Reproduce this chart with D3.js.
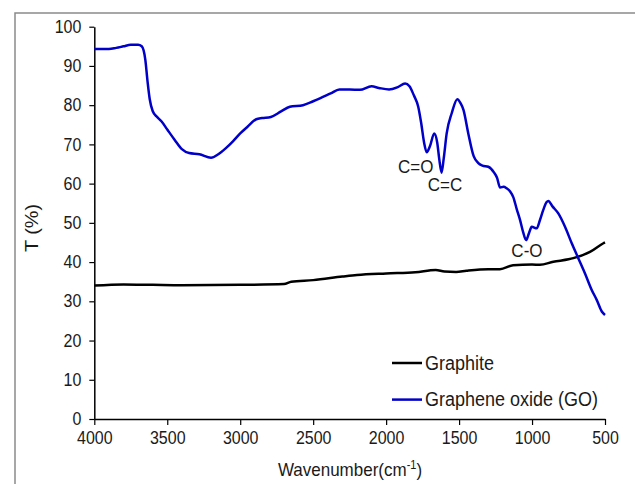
<!DOCTYPE html>
<html>
<head>
<meta charset="utf-8">
<script src="https://cdnjs.cloudflare.com/ajax/libs/d3/7.8.5/d3.min.js"></script>
<style>
  html, body { margin: 0; padding: 0; background: #fff; }
  svg text { font-family: "Liberation Sans", Arial, sans-serif; fill: #1a1a1a; }
</style>
</head>
<body>
<div id="chart"></div>
<script>
// Graphene oxide (GO) FTIR spectrum, wavenumber vs transmittance
const goWave = [4000, 3900, 3850, 3800, 3750, 3700, 3675, 3650, 3635, 3620, 3600, 3570, 3540, 3500, 3450,
  3400, 3350, 3280, 3200, 3150, 3100, 3050, 3000, 2950, 2890, 2850, 2790, 2720, 2660, 2570, 2500, 2450,
  2380, 2320, 2250, 2180, 2100, 2050, 1980, 1920, 1870, 1840, 1810, 1780, 1760, 1740, 1722, 1700, 1670,
  1650, 1635, 1620, 1605, 1585, 1550, 1512, 1490, 1470, 1437, 1400, 1370, 1340, 1300, 1260, 1240, 1219,
  1195, 1174, 1150, 1128, 1105, 1082, 1060, 1041, 1020, 1002, 968, 945, 923, 900, 888, 860, 820, 774,
  728, 683, 637, 591, 556, 522, 500];
const goT = [94.3, 94.3, 94.6, 95.0, 95.4, 95.4, 95.0, 91.5, 86.0, 81.5, 78.5, 77.0, 75.9, 73.8, 71.2,
  68.8, 67.8, 67.5, 66.6, 67.5, 69.0, 70.8, 72.8, 74.5, 76.4, 76.7, 77.0, 78.4, 79.6, 80.0, 81.0, 81.8,
  83.0, 84.0, 84.0, 83.9, 84.8, 84.4, 84.0, 84.6, 85.5, 84.8, 82.5, 79.6, 75.5, 70.5, 68.0, 69.5, 72.8,
  70.5, 66.0, 62.8, 66.5, 72.8, 78.0, 81.5, 80.5, 78.8, 72.8, 67.0, 65.3, 64.6, 64.3, 62.8, 61.5, 59.0,
  59.2, 58.8, 58.0, 56.5, 53.5, 50.7, 47.5, 45.6, 47.5, 49.0, 48.6, 50.8, 53.3, 55.3, 55.6, 54.2, 52.4, 49.0,
  44.8, 41.0, 37.1, 32.9, 30.3, 27.4, 26.5];

// Graphite spectrum
const grWave = [4000, 3800, 3600, 3400, 3000, 2700, 2650, 2500, 2300, 2200, 2000, 1800, 1660, 1600, 1520,
  1450, 1300, 1220, 1130, 1000, 946, 854, 750, 717, 603, 511, 500];
const grT = [34.0, 34.3, 34.2, 34.1, 34.2, 34.4, 35.0, 35.4, 36.3, 36.7, 37.1, 37.4, 38.0, 37.6, 37.5,
  37.8, 38.2, 38.2, 39.2, 39.4, 39.3, 40.1, 40.7, 41.0, 42.6, 44.8, 45.0];

const xTicks = [4000, 3500, 3000, 2500, 2000, 1500, 1000, 500];
const yTicks = [0, 10, 20, 30, 40, 50, 60, 70, 80, 90, 100];

const seriesNames = ['Graphite', 'Graphene oxide (GO)'];
const seriesColors = ['#000000', '#0000c8'];

const peakLabels = ['C=O', 'C=C', 'C-O'];
const peakWave = [1797, 1596, 1035];
const peakT = [64.3, 59.8, 42.8];

const W = 635, H = 484;
const margin = { left: 94.3, right: 30, top: 26.7, bottom: 65 };
const stretch = 1.1; // the original text is a little taller than wide

const svg = d3.select('#chart').append('svg')
  .attr('width', W)
  .attr('height', H);

// outer frame (runs off the right/bottom of the picture)
svg.append('rect')
  .attr('x', 15).attr('y', 13)
  .attr('width', 640).attr('height', 490)
  .attr('fill', 'none')
  .attr('stroke', '#8a8a8a')
  .attr('stroke-width', 1.5);

const x = d3.scaleLinear().domain([4000, 500]).range([margin.left, W - margin.right]);
const y = d3.scaleLinear().domain([0, 100]).range([H - margin.bottom, margin.top]);

const xAxis = svg.append('g')
  .attr('transform', `translate(0,${y(0)})`)
  .call(d3.axisBottom(x).tickValues(xTicks).tickFormat(d3.format('d'))
    .tickSize(6).tickPadding(5).tickSizeOuter(0));

const yAxis = svg.append('g')
  .attr('transform', `translate(${x(4000)},0)`)
  .call(d3.axisLeft(y).tickValues(yTicks).tickFormat(d3.format('d'))
    .tickSize(5).tickPadding(8).tickSizeOuter(0));

[xAxis, yAxis].forEach(g => {
  g.select('.domain').attr('stroke', '#000').attr('stroke-width', 1.5);
  g.selectAll('.tick line').attr('stroke', '#000').attr('stroke-width', 1.2);
  g.selectAll('.tick text')
    .style('font-family', '"Liberation Sans", Arial, sans-serif')
    .style('font-size', '16px')
    .attr('fill', '#1a1a1a')
    .attr('transform', `scale(1,${stretch})`);
});

const line = d3.line()
  .x(d => x(d[0]))
  .y(d => y(d[1]))
  .curve(d3.curveMonotoneX);

const grData = grWave.map((w, i) => [w, grT[i]]);
const goData = goWave.map((w, i) => [w, goT[i]]);

svg.append('path')
  .datum(grData)
  .attr('d', line)
  .attr('fill', 'none')
  .attr('stroke', seriesColors[0])
  .attr('stroke-width', 2.5);

svg.append('path')
  .datum(goData)
  .attr('d', line)
  .attr('fill', 'none')
  .attr('stroke', seriesColors[1])
  .attr('stroke-width', 2.5);

// peak annotations
svg.selectAll('.peak')
  .data(peakLabels)
  .enter().append('text')
  .attr('class', 'peak')
  .attr('transform', (d, i) => `translate(${x(peakWave[i])},${y(peakT[i])}) scale(1,${stretch})`)
  .attr('text-anchor', 'middle')
  .attr('dominant-baseline', 'central')
  .style('font-size', '17px')
  .text(d => d);

// legend
const legend = svg.append('g').attr('transform', 'translate(392,363)');
seriesNames.forEach((name, i) => {
  const g = legend.append('g').attr('transform', `translate(0,${i * 36.6})`);
  g.append('line')
    .attr('x1', 0).attr('x2', 30)
    .attr('stroke', seriesColors[i])
    .attr('stroke-width', 2.5);
  g.append('text')
    .attr('transform', `translate(33,0) scale(1,${stretch})`)
    .attr('dominant-baseline', 'central')
    .style('font-size', '18px')
    .text(name);
});

// axis titles
const xTitle = svg.append('text')
  .attr('transform', `translate(350,476) scale(1,${stretch})`)
  .attr('text-anchor', 'middle')
  .style('font-size', '17px');
xTitle.append('tspan').text('Wavenumber(cm');
xTitle.append('tspan').attr('dy', -6).style('font-size', '11px').text('-1');
xTitle.append('tspan').attr('dy', 6).text(')');

svg.append('text')
  .attr('transform', `translate(32,228) scale(1,${stretch}) rotate(-90)`)
  .attr('text-anchor', 'middle')
  .attr('dominant-baseline', 'central')
  .style('font-size', '18px')
  .text('T (%)');
</script>
</body>
</html>
